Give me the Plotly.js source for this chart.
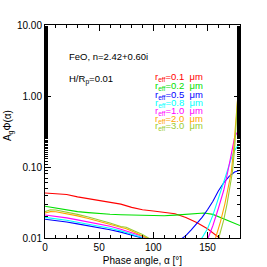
<!DOCTYPE html>
<html><head><meta charset="utf-8">
<script src="https://cdn.plot.ly/plotly-3.0.1.min.js"></script>
<style>html,body{margin:0;padding:0;background:#fff}#c{width:267px;height:267px}</style>
</head><body><div id="c"></div>
<script>
// r_eff = 0.1 um (red)
const a01 = [0,10,20,30,40,50,60,70,80,90,100,110,120,130,140,150,160,165];
const v01 = [0.043,0.0425,0.041,0.038,0.036,0.034,0.032,0.030,0.027,0.025,0.024,0.023,0.022,0.0195,0.0165,0.0135,0.0105,0.009];
// 0.2 um (green)
const a02 = [0,10,20,30,40,50,60,70,80,90,100,110,120,130,140,147,155,160,170,180];
const v02 = [0.028,0.0265,0.0245,0.0235,0.0228,0.022,0.0216,0.0213,0.0211,0.021,0.0206,0.0206,0.021,0.0215,0.022,0.0225,0.0215,0.0200,0.0172,0.015];
// 0.5 um (blue)
const a05 = [0,10,20,30,40,50,60,70,80,90,95,null,125,130,135,140,145,150,155,160,165,170,175,180];
const v05 = [0.0184,0.0177,0.0168,0.0158,0.0149,0.0141,0.0131,0.0121,0.0111,0.0101,0.0095,null,0.0095,0.0108,0.013,0.016,0.0195,0.025,0.033,0.046,0.06,0.074,0.085,0.09];
// 0.8 um (cyan)
const a08 = [0,10,20,30,40,50,60,70,80,90,95,null,144,150,155,160,165,168,171,174,177,180];
const v08 = [0.0195,0.0188,0.0178,0.0167,0.0157,0.0148,0.0137,0.0126,0.0114,0.0102,0.0096,null,0.0095,0.0135,0.021,0.035,0.06,0.085,0.12,0.16,0.19,0.205];
// 1.0 um (magenta)
const a10 = [0,10,20,30,40,50,60,70,80,90,95,null,150,155,160,165,169,172,175,177,180];
const v10 = [0.0211,0.0203,0.0192,0.018,0.0169,0.0158,0.0146,0.0133,0.012,0.0106,0.0098,null,0.0095,0.015,0.026,0.047,0.09,0.15,0.26,0.30,0.33];
// 2.0 um (orange)
const a20 = [0,5,10,20,30,40,50,60,70,75,80,90,96,null,157,162,166,170,172,174,176,177,178,180];
const v20 = [0.0225,0.0235,0.0234,0.022,0.0205,0.0188,0.0172,0.0157,0.0142,0.0135,0.0125,0.0108,0.0097,null,0.0095,0.017,0.03,0.065,0.085,0.17,0.45,0.8,1.0,1.2];
// 3.0 um (yellow-green)
const a30 = [0,5,10,20,30,40,50,60,70,75,80,90,97,null,160,165,168,171,173,175,177,178,179,180];
const v30 = [0.0235,0.025,0.0248,0.0232,0.0215,0.0197,0.018,0.0163,0.0145,0.0142,0.0131,0.0112,0.0097,null,0.0095,0.018,0.03,0.055,0.085,0.18,0.5,1.0,1.8,3.2];

const labels = ["0.1","0.2","0.5","0.8","1.0","2.0","3.0"];
const colors = ["#ff0000","#00e000","#0000ff","#00ffff","#ff00ff","#ffa500","#9acd32"];
const xs = [a01,a02,a05,a08,a10,a20,a30];
const ys = [v01,v02,v05,v08,v10,v20,v30];
const yTickVals = [0.01,0.1,1,10];
const yTickText = ["0.01","0.10","1.00","10.00"];
const xTickVals = [0,50,100,150];

const F = "Liberation Sans, Arial, sans-serif";
const traces = xs.map((x,i)=>({x:x,y:ys[i],type:"scatter",mode:"lines",connectgaps:false,
  line:{color:colors[i],width:1.1},showlegend:false,hoverinfo:"skip"}));

const legY = [0.756,0.714,0.673,0.635,0.595,0.560,0.525];
const anns = [
  {text:"FeO, n=2.42+0.60i",x:0.113,y:0.85,xref:"paper",yref:"paper",xanchor:"left",yanchor:"middle",showarrow:false,font:{family:F,size:9.5,color:"#000"}},
  {text:"H/R<sub>p</sub>=0.01",x:0.113,y:0.742,xref:"paper",yref:"paper",xanchor:"left",yanchor:"middle",showarrow:false,font:{family:F,size:9.5,color:"#000"}},
  {text:"A<sub>g</sub>Φ(α)",x:-0.19,y:0.53,xref:"paper",yref:"paper",xanchor:"center",yanchor:"middle",textangle:-90,showarrow:false,font:{family:F,size:10,color:"#000"}}
];
labels.forEach((l,i)=>anns.push({text:"r<sub>eff</sub>=" + l + "  μm",x:0.554,y:legY[i],xref:"paper",yref:"paper",xanchor:"left",yanchor:"middle",showarrow:false,font:{family:F,size:9.5,color:colors[i]}}));

const layout = {
  width:267,height:267,margin:{l:45,r:27,t:25,b:29},
  paper_bgcolor:"#fff",plot_bgcolor:"#fff",
  font:{family:F,size:10,color:"#000"},
  xaxis:{range:[0,180],tickvals:xTickVals,ticks:"inside",ticklen:6,tickwidth:1,tickcolor:"#000",
    showline:true,linecolor:"#000",linewidth:1,mirror:"allticks",showgrid:false,zeroline:false,
    minor:{dtick:10,ticks:"inside",ticklen:3,tickcolor:"#000",showgrid:false},
    tickfont:{family:F,size:10},
    title:{text:"Phase angle, α [°]",font:{family:F,size:10},standoff:4}},
  yaxis:{type:"log",range:[-2,1],tickvals:yTickVals,ticktext:yTickText,ticks:"inside",ticklen:6,tickwidth:1,tickcolor:"#000",
    showline:true,linecolor:"#000",linewidth:1,mirror:"allticks",showgrid:false,zeroline:false,
    minor:{ticks:"inside",ticklen:3,tickcolor:"#000",showgrid:false},
    tickfont:{family:F,size:10}},
  annotations:anns
};
Plotly.newPlot("c",traces,layout,{staticPlot:true,displayModeBar:false});
</script></body></html>
